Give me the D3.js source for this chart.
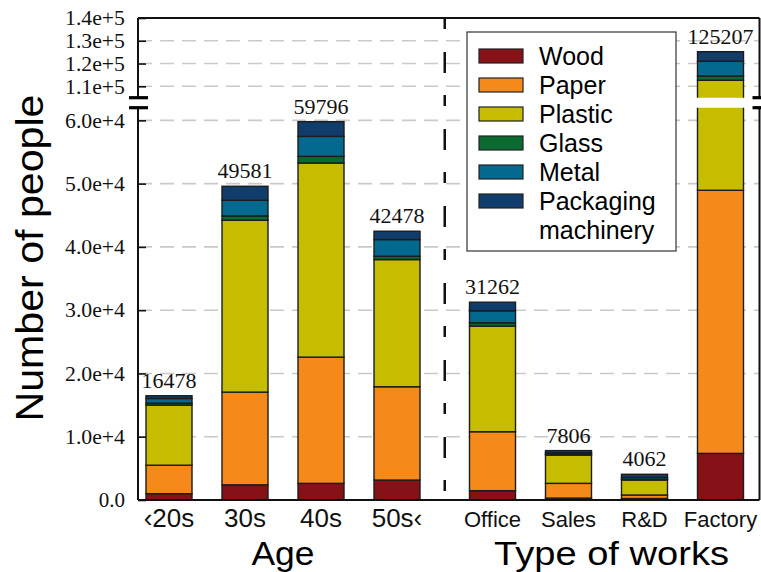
<!DOCTYPE html>
<html>
<head>
<meta charset="utf-8">
<script src="https://cdn.jsdelivr.net/npm/d3@7/dist/d3.min.js"></script>
<style>
  body { margin: 0; background: #fff; }
  svg { display: block; }
</style>
</head>
<body>
<svg id="chart" width="761" height="572"></svg>
<script>
// Workers by age band and by type of work, split by packaging material
const categories = ["‹20s", "30s", "40s", "50s‹", "Office", "Sales", "R&D", "Factory"];
const groupOf    = [0, 0, 0, 0, 1, 1, 1, 1];
const groupNames = ["Age", "Type of works"];

const materials = ["Wood", "Paper", "Plastic", "Glass", "Metal", "Packaging machinery"];
const wood      = [1000, 2400, 2630, 3150, 1470, 300, 240, 7370];
const paper     = [4500, 14650, 19950, 14750, 9320, 2330, 550, 41580];
const plastic   = [9500, 27160, 30680, 20100, 16690, 4470, 2370, 63700];
const glass     = [300, 680, 1050, 530, 520, 150, 100, 1890];
const metal     = [750, 2480, 3160, 2630, 1900, 200, 300, 6490];
const packaging = [428, 2211, 2326, 1318, 1362, 356, 502, 4177];
const totals    = [16478, 49581, 59796, 42478, 31262, 7806, 4062, 125207];

const lowerTicks = [0, 10000, 20000, 30000, 40000, 50000, 60000];
const lowerTickLabels = ["0.0", "1.0e+4", "2.0e+4", "3.0e+4", "4.0e+4", "5.0e+4", "6.0e+4"];
const upperTicks = [110000, 120000, 130000, 140000];
const upperTickLabels = ["1.1e+5", "1.2e+5", "1.3e+5", "1.4e+5"];

const colors = ["#861218", "#f58a1b", "#c6bd00", "#0b6a30", "#04698e", "#113d6d"];

(function draw() {
  const series = [wood, paper, plastic, glass, metal, packaging];
  const rows = categories.map((c, i) => {
    const r = { cat: c, idx: i };
    materials.forEach((m, k) => { r[m] = series[k][i]; });
    return r;
  });
  const stacked = d3.stack().keys(materials)(rows);

  // ---- layout ----
  const svg = d3.select("#chart");
  const pLeft = 138, pRight = 759.5, pTop = 18, pBottom = 500;
  const upperBottom = 97.7, lowerTop = 107.7;

  const y = d3.scaleLinear().domain([0, 62000]).range([pBottom, lowerTop]);
  const yU = d3.scaleLinear().domain([105000, 140000]).range([upperBottom, pTop]);

  // slot positions: four bars per group, extra gap between groups
  const slot = d3.scaleLinear().domain([0, 7]).range([169, 169 + 76 * 7]);
  const groupGap = 19.5;
  const xc = i => slot(i) + groupGap * groupOf[i];
  const barW = 46;

  const defs = svg.append("defs");
  defs.append("clipPath").attr("id", "clipLower")
    .append("rect").attr("x", pLeft).attr("y", lowerTop).attr("width", pRight - pLeft).attr("height", pBottom - lowerTop);
  defs.append("clipPath").attr("id", "clipUpper")
    .append("rect").attr("x", pLeft).attr("y", pTop).attr("width", pRight - pLeft).attr("height", upperBottom - pTop);

  // gridlines
  const gridG = svg.append("g");
  const gridStyle = sel => sel.attr("stroke", "#c9c9c9").attr("stroke-width", 1.6).attr("stroke-dasharray", "14,8");
  gridG.selectAll("line.gl").data(lowerTicks.filter(t => t > 0)).join("line")
    .attr("class", "gl")
    .attr("x1", pLeft).attr("x2", pRight).attr("y1", d => y(d)).attr("y2", d => y(d)).call(gridStyle);
  gridG.selectAll("line.gu").data(upperTicks.filter(t => t < 140000)).join("line")
    .attr("class", "gu")
    .attr("x1", pLeft).attr("x2", pRight).attr("y1", d => yU(d)).attr("y2", d => yU(d)).call(gridStyle);

  // bars, drawn once per panel
  function drawBars(scale, clipId) {
    const g = svg.append("g").attr("clip-path", `url(#${clipId})`);
    g.selectAll("g.layer").data(stacked).join("g")
      .attr("class", "layer")
      .attr("fill", (d, k) => colors[k])
      .selectAll("rect").data(d => d).join("rect")
      .attr("x", d => xc(d.data.idx) - barW / 2)
      .attr("width", barW)
      .attr("y", d => scale(d[1]))
      .attr("height", d => Math.max(0, scale(d[0]) - scale(d[1])))
      .attr("stroke", "#1c1c1c").attr("stroke-width", 1.4);
  }
  drawBars(y, "clipLower");
  drawBars(yU, "clipUpper");

  // group separator
  const sepX = (xc(3) + xc(4)) / 2;
  svg.append("line").attr("x1", sepX).attr("x2", sepX).attr("y1", pTop).attr("y2", pBottom)
    .attr("stroke", "#111").attr("stroke-width", 2.5).attr("stroke-dasharray", "11,23,21,22");

  // total labels
  svg.append("g").selectAll("text").data(totals).join("text")
    .attr("x", (d, i) => xc(i))
    .attr("y", d => (d > 62000 ? yU(d) : y(d)) - 8)
    .attr("text-anchor", "middle")
    .attr("font-family", "'Liberation Serif', 'Times New Roman', serif")
    .attr("font-size", 22).attr("fill", "#111")
    .text(d => d);

  // spines
  const spine = svg.append("g").attr("stroke", "#111").attr("stroke-width", 2).attr("fill", "none");
  spine.append("line").attr("x1", pLeft).attr("x2", pRight).attr("y1", pTop).attr("y2", pTop);
  spine.append("line").attr("x1", pLeft).attr("x2", pRight).attr("y1", pBottom).attr("y2", pBottom);
  spine.append("line").attr("x1", pLeft).attr("x2", pLeft).attr("y1", pTop).attr("y2", upperBottom);
  spine.append("line").attr("x1", pLeft).attr("x2", pLeft).attr("y1", lowerTop).attr("y2", pBottom);
  spine.append("line").attr("x1", pRight).attr("x2", pRight).attr("y1", pTop).attr("y2", upperBottom);
  spine.append("line").attr("x1", pRight).attr("x2", pRight).attr("y1", lowerTop).attr("y2", pBottom);

  // break marks
  const brk = svg.append("g").attr("stroke", "#000").attr("stroke-width", 3.2);
  [upperBottom, lowerTop].forEach(yy => {
    brk.append("line").attr("x1", pLeft - 9).attr("x2", pLeft + 10).attr("y1", yy).attr("y2", yy);
    brk.append("line").attr("x1", pRight - 7).attr("x2", pRight + 10).attr("y1", yy).attr("y2", yy);
  });

  // y axes (inward ticks); exponent labels set to a common width
  const tickFont = "'Liberation Serif', 'Times New Roman', serif";
  function styleAxis(g) {
    g.select(".domain").remove();
    g.selectAll(".tick line").attr("stroke", "#111").attr("stroke-width", 1.6);
    g.selectAll(".tick text").attr("font-family", tickFont).attr("font-size", 21).attr("fill", "#111")
      .attr("x", -13).attr("text-anchor", "end")
      .each(function () {
        if (this.textContent.length > 3) {
          d3.select(this).attr("textLength", 60).attr("lengthAdjust", "spacingAndGlyphs");
        }
      });
  }
  svg.append("g").attr("transform", `translate(${pLeft},0)`)
    .call(d3.axisRight(y).tickValues(lowerTicks).tickSize(8).tickFormat((d, i) => lowerTickLabels[i]))
    .call(styleAxis);
  svg.append("g").attr("transform", `translate(${pLeft},0)`)
    .call(d3.axisRight(yU).tickValues(upperTicks).tickSize(8).tickFormat((d, i) => upperTickLabels[i]))
    .call(styleAxis);

  // category labels
  const sans = "'Liberation Sans', Arial, sans-serif";
  svg.append("g").selectAll("text").data(categories).join("text")
    .attr("x", (d, i) => xc(i)).attr("y", 527)
    .attr("text-anchor", "middle")
    .attr("font-family", sans)
    .attr("font-size", (d, i) => groupOf[i] === 0 ? 26 : 22)
    .attr("fill", "#111")
    .text(d => d);

  // group titles
  groupNames.forEach((name, gi) => {
    const idx = groupOf.map((g, i) => g === gi ? i : -1).filter(i => i >= 0);
    const cx = (xc(idx[0]) + xc(idx[idx.length - 1])) / 2 + (gi === 1 ? 5 : 0);
    svg.append("text").attr("x", cx).attr("y", 565)
      .attr("text-anchor", "middle").attr("font-family", sans)
      .attr("font-size", 34).attr("fill", "#000")
      .attr("textLength", gi === 0 ? 63 : 235).attr("lengthAdjust", "spacingAndGlyphs")
      .text(name);
  });

  // y title
  svg.append("text")
    .attr("transform", "translate(43,258) rotate(-90)")
    .attr("text-anchor", "middle").attr("font-family", sans)
    .attr("font-size", 39).attr("fill", "#000")
    .attr("textLength", 327).attr("lengthAdjust", "spacingAndGlyphs")
    .text("Number of people");

  // legend
  const lg = svg.append("g").attr("transform", "translate(467,32)");
  lg.append("rect").attr("width", 209).attr("height", 219)
    .attr("fill", "#fff").attr("stroke", "#333").attr("stroke-width", 1.2);
  materials.forEach((m, k) => {
    const cy = 24 + 29 * k;
    lg.append("rect").attr("x", 12).attr("y", cy - 7).attr("width", 44).attr("height", 14)
      .attr("fill", colors[k]).attr("stroke", "#222").attr("stroke-width", 1.2);
    const words = m === "Packaging machinery" ? ["Packaging", "machinery"] : [m];
    words.forEach((w, j) => {
      lg.append("text").attr("x", 72).attr("y", cy + 29 * j)
        .attr("dy", "0.35em")
        .attr("font-family", sans).attr("font-size", 25).attr("fill", "#000")
        .text(w);
    });
  });
})();
</script>
</body>
</html>
